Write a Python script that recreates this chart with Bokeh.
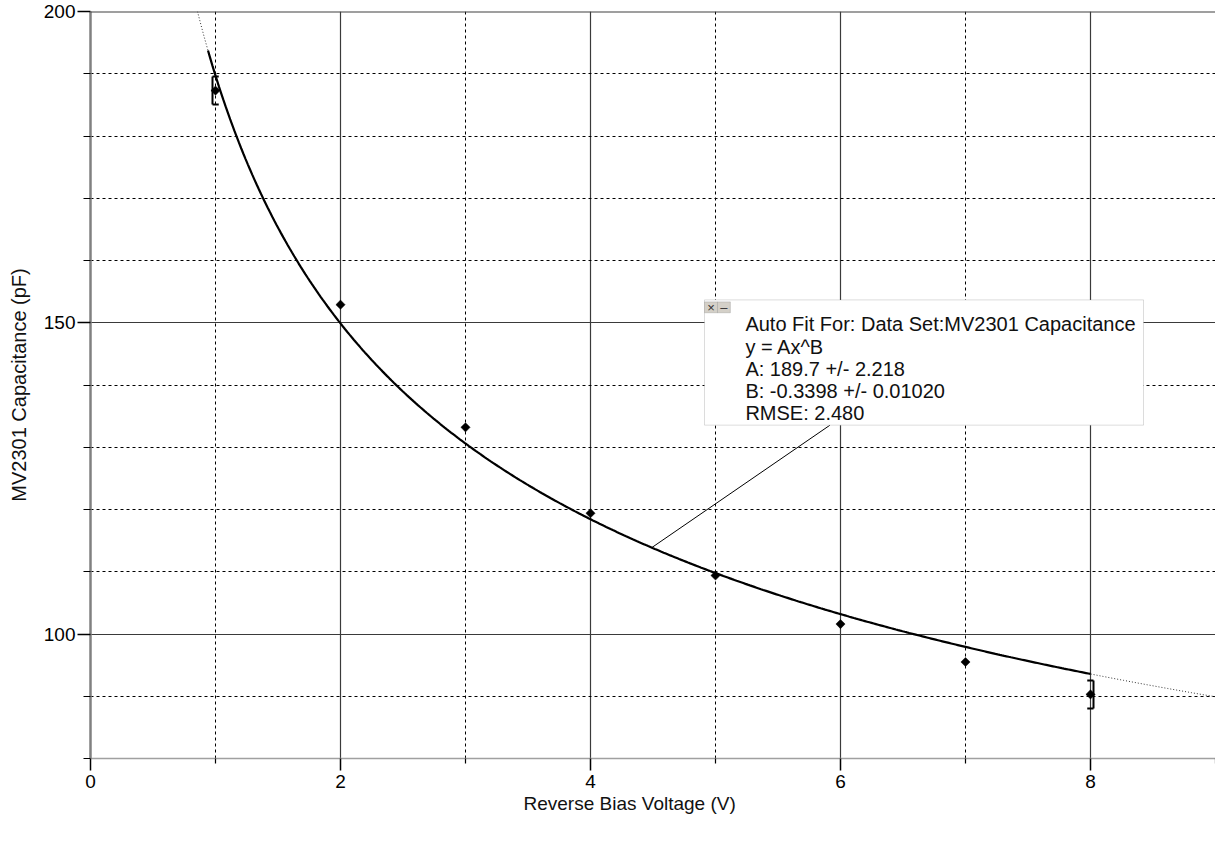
import math
import numpy as np
from bokeh.plotting import figure
from bokeh.models import (FixedTicker, Grid, Label, Span, BoxAnnotation, Range1d, Title)
from bokeh.embed import file_html
from bokeh.resources import INLINE

# ---- data ----
voltage = [1, 2, 3, 4, 5, 6, 7, 8]
capacitance = [187.3, 152.9, 133.2, 119.4, 109.4, 101.6, 95.5, 90.3]
fit_A = 189.7
fit_B = -0.3398
x_ticks = [0, 2, 4, 6, 8]
x_minor = [1, 3, 5, 7, 9]
y_ticks = [100, 150, 200]
y_minor = [80, 90, 110, 120, 130, 140, 160, 170, 180, 190]
fit_lines = [
    "Auto Fit For:  Data Set:MV2301 Capacitance",
    "y = Ax^B",
    "A: 189.7 +/- 2.218",
    "B: -0.3398 +/- 0.01020",
    "RMSE: 2.480",
]
x_title = "Reverse Bias Voltage (V)"
y_title = "MV2301 Capacitance (pF)"

FONT = "Liberation Sans"

p = figure(width=1215, height=830, output_backend="svg", toolbar_location=None,
           x_range=Range1d(0, 9), y_range=Range1d(80, 200),
           min_border_left=90, min_border_right=0, min_border_top=11,
           min_border_bottom=72)
p.outline_line_color = None
p.background_fill_color = "white"
p.border_fill_color = "white"
p.xgrid.visible = False
p.ygrid.visible = False

# grids
p.add_layout(Grid(dimension=0, ticker=FixedTicker(ticks=[2, 4, 6, 8]),
                  grid_line_color="#3a3a3a", grid_line_width=1.2))
p.add_layout(Grid(dimension=1, ticker=FixedTicker(ticks=[100, 150]),
                  grid_line_color="#3a3a3a", grid_line_width=1.2))
p.add_layout(Grid(dimension=0, ticker=FixedTicker(ticks=x_minor),
                  grid_line_color="black", grid_line_width=1, grid_line_dash="3 3"))
p.add_layout(Grid(dimension=1, ticker=FixedTicker(ticks=[v for v in y_minor if v != 80]),
                  grid_line_color="black", grid_line_width=1, grid_line_dash="3 3"))
p.add_layout(Span(location=200, dimension="width", line_color="#404040", line_width=2))

# axes
p.xaxis.ticker = FixedTicker(ticks=x_ticks, minor_ticks=x_minor)
p.yaxis.ticker = FixedTicker(ticks=y_ticks, minor_ticks=y_minor)
for ax in (p.xaxis, p.yaxis):
    ax.major_label_text_font = FONT
    ax.major_label_text_font_size = "19px"
    ax.major_label_text_color = "black"
    ax.major_tick_line_color = "black"
    ax.minor_tick_line_color = "black"
    ax.major_tick_in = 0
    ax.minor_tick_in = 0
    ax.major_tick_line_width = 1.5
    ax.minor_tick_line_width = 1.2
p.yaxis.major_tick_out = 13
p.yaxis.minor_tick_out = 7
p.xaxis.major_tick_out = 12
p.xaxis.minor_tick_out = 5
p.yaxis.major_label_standoff = 2
p.xaxis.major_label_standoff = 4
p.yaxis.axis_line_color = "#808080"
p.yaxis.axis_line_width = 2.5
p.xaxis.axis_line_color = "#a0a0a0"
p.xaxis.axis_line_width = 1.5

# y axis title
p.yaxis.axis_label = y_title
p.yaxis.axis_label_text_font = FONT
p.yaxis.axis_label_text_font_size = "20px"
p.yaxis.axis_label_text_font_style = "normal"
p.yaxis.axis_label_text_color = "#111111"
p.yaxis.axis_label_standoff = 11

# x axis title (placed below, left-aligned with offset)
p.add_layout(Title(text=x_title, align="left", offset=433, standoff=0,
                   text_font=FONT, text_font_size="19px", text_font_style="normal",
                   text_color="#111111"), "below")

# fit curve
x_lo = (200.0 / fit_A) ** (1.0 / fit_B)
xd = np.linspace(x_lo, 9, 300)
p.line(xd, fit_A * xd ** fit_B, line_color="#333333", line_width=1, line_dash="1 2")
xs = np.linspace(0.94, 8, 400)
p.line(xs, fit_A * xs ** fit_B, line_color="black", line_width=2.2)

# data points
p.scatter(voltage, capacitance, marker="square", angle=math.pi / 4, size=6.5,
          fill_color="black", line_color="black", line_width=0.5)

# fit-range brackets around first and last points
dx_off = 0.024
dx_tick = 0.05
dy_half = 2.25
x0, y0 = voltage[0], capacitance[0]
x1, y1 = voltage[-1], capacitance[-1]
bx = [x0 - dx_off, x0 - dx_off, x0 - dx_off, x1 + dx_off, x1 + dx_off, x1 + dx_off]
by = [y0 - dy_half, y0 - dy_half, y0 + dy_half, y1 - dy_half, y1 - dy_half, y1 + dy_half]
ex = [x0 - dx_off, x0 - dx_off + dx_tick, x0 - dx_off + dx_tick,
      x1 + dx_off, x1 + dx_off - dx_tick, x1 + dx_off - dx_tick]
ey = [y0 + dy_half, y0 - dy_half, y0 + dy_half, y1 + dy_half, y1 - dy_half, y1 + dy_half]
p.segment(bx, by, ex, ey, line_color="black", line_width=2)

# leader line from curve to box
lx = 4.49
p.segment([lx], [fit_A * lx ** fit_B], [5.916], [133.55], line_color="black", line_width=1)

# fit info box
p.add_layout(BoxAnnotation(left=4.912, right=8.424, bottom=133.55, top=153.67,
                           fill_color="white", fill_alpha=1.0,
                           line_color="#8a8a8a", line_width=1, level="annotation"))
for (l, r, sym) in [(4.912, 5.016, "\u00d7"), (5.016, 5.119, "\u2013")]:
    p.add_layout(BoxAnnotation(left=l, right=r, bottom=151.6, top=153.35,
                               fill_color="#d4d0c8", fill_alpha=1.0,
                               line_color="#808080", line_width=1, level="annotation"))
    p.add_layout(Label(x=(l + r) / 2, y=152.47, text=sym, text_align="center",
                       text_baseline="middle", text_font=FONT, text_font_size="13px",
                       text_color="#333333", level="annotation"))
baselines = [149.73, 146.12, 142.54, 139.03, 135.46]
for txt, yb in zip(fit_lines, baselines):
    p.add_layout(Label(x=5.239, y=yb, text=txt, text_align="left",
                       text_baseline="alphabetic", text_font=FONT,
                       text_font_size="20px", text_color="#111111", level="annotation"))

open("out.html", "w").write(file_html(p, INLINE))
